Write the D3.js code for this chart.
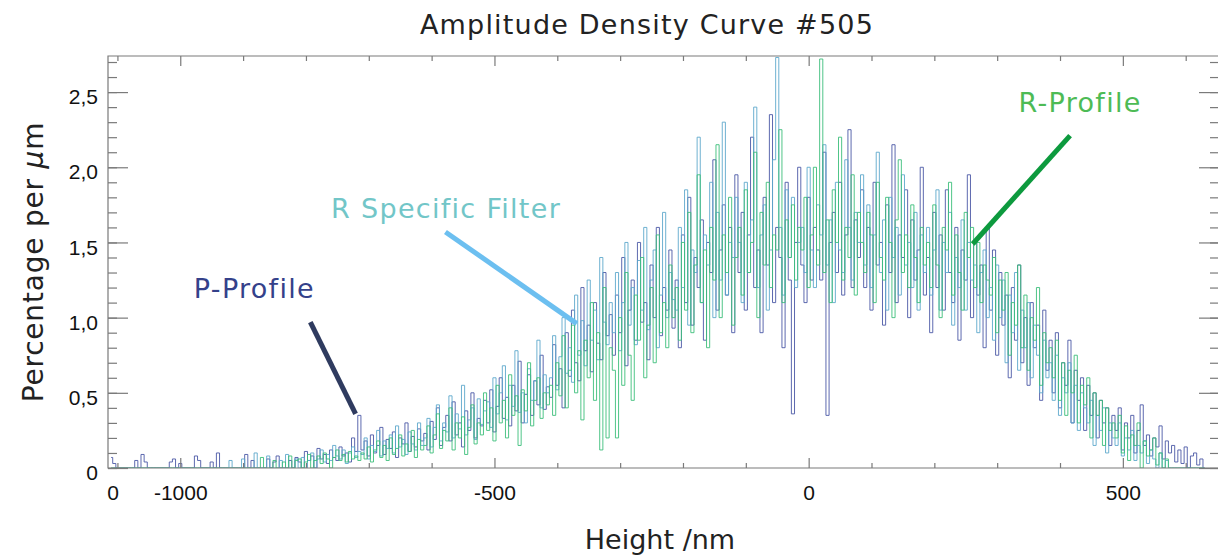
<!DOCTYPE html>
<html>
<head>
<meta charset="utf-8">
<script src="https://cdn.jsdelivr.net/npm/d3@7"></script>
<style>
  body { margin: 0; background: #fff; }
  svg { display: block; }
</style>
</head>
<body>
<div id="chart"></div>
<script>
/* Amplitude density curve, three profiles, 5 nm bins */

const titleText = 'Amplitude Density Curve #505';
const xTitle = 'Height /nm';

// bins: first bin centre and width (nm)
const binStart = -1110;
const binWidth = 5;

// percentage per µm, one value per bin (100 nm per row)
const pProfile = [
    0.07,0.03,0,0,0,0,0,0,0.05,0,0.09,0.04,0,0,0,0,0,0,0,0.04,
    0.06,0,0.03,0,0,0,0,0.08,0.05,0,0,0,0.04,0,0.1,0,0,0,0,0,
    0,0,0,0.09,0,0.05,0,0,0,0,0.06,0,0.04,0.08,0,0,0,0.05,0,0.07,
    0.04,0,0.11,0.05,0.08,0,0.13,0.06,0.09,0.03,0.12,0.07,0.05,0.14,0.08,0.1,0.04,0.2,0.11,0.35,
    0.12,0.18,0.08,0.22,0.1,0.15,0.27,0.09,0.19,0.13,0.24,0.07,0.2,0.16,0.3,0.11,0.21,0.14,0.26,0.18,
    0.23,0.12,0.31,0.19,0.4,0.15,0.27,0.35,0.18,0.44,0.22,0.3,0.14,0.38,0.25,0.5,0.2,0.33,0.28,0.45,
    0.3,0.52,0.24,0.41,0.6,0.33,0.47,0.28,0.55,0.38,0.71,0.3,0.49,0.62,0.35,0.58,0.42,0.75,0.39,0.54,
    0.47,0.82,0.55,0.66,0.4,0.9,0.61,1.05,0.7,0.58,1.2,0.78,0.95,0.64,1.1,0.83,0.72,1.3,0.88,1.02,
    0.75,1.15,0.9,1.4,0.68,1.05,1.25,0.85,1.5,0.97,1.1,0.72,1.35,1.0,1.6,0.88,1.2,1.05,1.45,0.93,
    1.25,0.8,1.55,1.1,1.8,0.95,1.4,1.2,1.65,0.85,1.5,1.3,2.05,1.05,1.45,1.75,1.15,1.6,0.9,1.95,
    1.3,1.7,1.05,1.55,2.2,1.2,1.45,0.9,1.8,1.35,2.35,1.1,1.6,1.4,0.8,1.9,1.25,0.36,1.5,2.0,
    1.35,1.1,1.8,1.25,1.6,1.45,1.25,2.1,0.35,1.5,1.7,1.3,1.9,1.15,1.55,2.25,1.2,1.65,1.4,1.85,
    1.2,1.6,1.05,1.9,1.35,1.5,0.95,1.75,1.3,2.15,1.1,1.55,1.4,1.85,1.0,1.65,1.25,1.45,2.0,1.15,
    1.4,0.9,1.7,1.2,1.55,1.05,1.85,1.3,1.1,1.6,0.85,1.45,1.25,1.95,1.0,1.5,1.15,1.35,0.8,1.6,
    1.05,1.45,0.75,1.3,0.95,1.15,0.6,1.2,0.85,1.35,0.7,1.0,0.55,1.1,0.8,0.95,0.45,1.05,0.65,0.85,
    0.5,0.9,0.4,0.7,0.55,0.85,0.3,0.65,0.45,0.6,0.25,0.55,0.35,0.5,0.2,0.45,0.3,0.4,0.15,0.35,
    0.25,0.4,0.12,0.3,0.2,0.35,0.1,0.25,0.42,0.15,0.22,0.08,0.2,0.14,0.28,0.06,0.18,0.1,0.15,0.04,
    0.12,0.03,0.14,0,0.08,0.1,0.02,0.06,0
];

const rFilter = [
    0,0,0,0,0,0,0,0,0,0,0,0,0,0,0,0,0,0,0,0,
    0,0,0,0,0,0,0,0,0,0,0,0,0,0,0,0,0,0,0.05,0,
    0,0,0.06,0,0,0,0.1,0,0,0,0.08,0,0,0,0.05,0,0.09,0,0,0.06,
    0,0.07,0,0.05,0.1,0,0.06,0.12,0.04,0.09,0.05,0.15,0.08,0.06,0.12,0.03,0.1,0.14,0.07,0.11,
    0.09,0.2,0.06,0.15,0.11,0.25,0.08,0.18,0.13,0.22,0.1,0.28,0.14,0.19,0.09,0.24,0.16,0.12,0.3,0.15,
    0.2,0.33,0.14,0.27,0.42,0.18,0.3,0.24,0.48,0.2,0.36,0.26,0.55,0.22,0.32,0.4,0.19,0.46,0.29,0.38,
    0.44,0.27,0.6,0.36,0.5,0.68,0.32,0.55,0.41,0.78,0.37,0.5,0.3,0.66,0.45,0.58,0.85,0.4,0.62,0.5,
    0.6,0.88,0.52,0.74,1.0,0.63,0.8,0.57,1.15,0.75,0.98,0.68,1.25,0.85,1.05,0.72,1.4,0.97,0.82,1.1,
    0.9,1.3,0.78,1.1,1.5,0.95,1.2,0.82,1.38,1.05,1.6,0.92,1.25,1.45,0.8,1.15,1.7,1.0,1.3,1.12,
    1.05,1.6,1.2,1.85,0.95,1.45,1.3,2.2,1.1,1.55,1.35,1.9,1.0,1.7,1.25,2.3,1.15,1.5,1.4,1.8,
    1.5,1.1,1.9,1.3,1.65,2.4,1.2,1.55,1.75,1.05,1.45,2.05,2.73,1.6,1.15,1.85,1.4,1.8,1.2,1.5,
    1.6,1.3,2.0,1.45,1.2,1.75,1.55,2.15,1.35,1.65,1.1,1.9,1.45,1.3,2.05,1.6,1.25,1.7,1.5,1.95,
    1.35,1.75,1.2,1.55,2.1,1.3,1.65,1.05,1.8,1.4,1.6,1.15,1.95,1.35,1.5,1.2,1.7,1.05,1.55,1.3,
    1.6,1.15,1.45,1.85,1.05,1.5,1.3,1.7,0.95,1.4,1.2,1.65,1.05,1.5,1.25,1.35,0.9,1.3,1.45,1.0,
    1.2,0.85,1.35,1.0,1.25,0.7,1.15,0.9,1.3,0.65,1.05,0.8,1.1,0.6,0.95,0.75,0.5,0.85,0.6,0.7,
    0.45,0.75,0.35,0.6,0.5,0.7,0.3,0.55,0.25,0.5,0.4,0.3,0.45,0.15,0.35,0.25,0.4,0.1,0.3,0.2,
    0.15,0.3,0.08,0.2,0.12,0.25,0.05,0.15,0.1,0.18,0.03,0.12,0.06,0,0.1,0,0.05,0,0,0,
    0,0,0,0,0,0,0,0,0
];

const rProfile = [
    0,0,0,0,0,0,0,0,0,0,0,0,0,0,0,0,0,0,0,0,
    0,0,0,0,0,0,0,0,0,0,0,0,0,0,0,0,0,0,0,0,
    0,0,0,0,0,0,0,0,0.07,0,0,0,0.05,0,0,0.04,0,0.08,0,0.05,
    0.06,0,0.04,0.09,0,0.05,0.08,0.03,0.1,0.06,0,0.07,0.12,0.05,0.09,0.04,0.11,0.06,0.08,0.05,
    0.1,0.06,0.14,0.04,0.12,0.18,0.07,0.15,0.05,0.2,0.09,0.13,0.22,0.08,0.16,0.11,0.25,0.07,0.19,0.12,
    0.15,0.28,0.1,0.22,0.36,0.13,0.25,0.18,0.4,0.12,0.3,0.2,0.34,0.09,0.27,0.42,0.16,0.3,0.22,0.5,
    0.25,0.4,0.18,0.55,0.3,0.45,0.2,0.62,0.35,0.48,0.15,0.52,0.38,0.7,0.28,0.45,0.6,0.33,0.5,0.42,
    0.55,0.35,0.7,0.48,0.88,0.4,0.65,0.95,0.5,0.78,0.32,0.85,0.6,1.1,0.45,0.9,0.12,1.2,0.2,0.8,
    0.65,0.2,1.0,0.55,1.3,0.75,0.45,1.15,0.85,1.4,0.6,0.95,1.2,0.7,1.55,0.9,1.1,0.8,1.35,1.0,
    1.2,0.85,1.5,1.05,1.7,0.9,1.35,1.95,1.1,1.45,0.8,1.6,1.25,2.15,1.0,1.55,1.3,1.8,0.95,1.4,
    1.6,1.15,1.85,1.3,1.5,2.1,1.0,1.7,1.35,1.9,1.2,1.55,1.45,2.25,1.1,1.65,1.4,1.75,1.25,1.6,
    1.45,1.8,1.2,1.55,2.0,1.35,2.72,1.3,1.65,1.1,1.85,1.5,2.2,1.25,1.6,1.4,1.95,1.15,1.7,1.5,
    1.3,1.7,1.55,1.1,1.9,1.4,1.25,1.8,1.5,1.0,1.65,2.05,1.3,1.55,1.2,1.75,1.4,1.1,1.6,1.35,
    1.5,1.2,1.75,1.35,1.0,1.6,1.45,1.9,1.15,1.55,1.3,1.05,1.7,1.4,1.6,1.2,1.5,1.1,1.35,1.25,
    1.15,1.4,0.9,1.25,1.05,1.3,0.75,1.1,0.95,1.35,0.8,1.15,0.65,1.0,0.85,1.2,0.55,0.9,0.7,0.8,
    0.6,0.85,0.45,0.7,0.35,0.65,0.5,0.75,0.3,0.55,0.42,0.6,0.2,0.5,0.35,0.45,0.15,0.4,0.25,0.3,
    0.2,0.35,0.1,0.28,0.05,0.22,0.15,0.3,0,0.18,0.08,0.12,0.2,0.02,0.1,0,0.06,0,0,0,
    0,0,0,0,0,0,0,0,0
];

const xMajorTicks = [-1000, -500, 0, 500];
const xMinorTicks = [-1100, -900, -800, -700, -600, -400, -300, -200, -100, 100, 200, 300, 400, 600];
const yMajorTicks = [0, 0.5, 1, 1.5, 2, 2.5];
const yTickLabels = ['0', '0,5', '1,0', '1,5', '2,0', '2,5'];

// annotation labels and pointer lines, in data units
const notes = [
    { name: 'P-Profile',         color: '#34418a', lineColor: '#2f3b5f', tx: -882, ty: 1.13, x1: -793, y1: 0.97, x2: -721, y2: 0.36 },
    { name: 'R Specific Filter', color: '#72c6c8', lineColor: '#6cbff0', tx: -577, ty: 1.66, x1: -578, y1: 1.57, x2: -369, y2: 0.96 },
    { name: 'R-Profile',         color: '#4dbb55', lineColor: '#0d9a3e', tx: 432,  ty: 2.37, x1: 416,  y1: 2.21, x2: 261,  y2: 1.49 }
];

const seriesList = [
    { name: 'P-Profile', values: pProfile, color: '#4b59a6' },
    { name: 'R Specific Filter', values: rFilter, color: '#5ea8cc' },
    { name: 'R-Profile', values: rProfile, color: '#3dbf7b' }
];

const width = 1218, height = 556;
const plot = { left: 108, right: 1219, top: 56, bottom: 468 };

const svg = d3.select('#chart').append('svg')
    .attr('width', width)
    .attr('height', height)
    .style('background', '#fff');

const x = d3.scaleLinear().domain([-1115, 653]).range([plot.left, plot.right]);
const y = d3.scaleLinear().domain([0, 2.74]).range([plot.bottom, plot.top]);

const heights = d3.range(pProfile.length).map(i => binStart + i * binWidth);

svg.append('defs').append('clipPath').attr('id', 'plot-clip')
    .append('rect')
    .attr('x', plot.left).attr('y', plot.top)
    .attr('width', plot.right - plot.left).attr('height', plot.bottom - plot.top);

// curves
const line = d3.line()
    .x((d, i) => x(heights[i]))
    .y(d => y(d))
    .curve(d3.curveStep);

const curveGroup = svg.append('g').attr('clip-path', 'url(#plot-clip)');
seriesList.forEach(s => {
    curveGroup.append('path')
        .datum(s.values)
        .attr('fill', 'none')
        .attr('stroke', s.color)
        .attr('stroke-width', 1)
        .attr('stroke-opacity', 0.9)
        .attr('d', line);
});

// frame
const axisColor = '#7a7a7a';
svg.append('path')
    .attr('d', `M${plot.right},${plot.top}H${plot.left}V${plot.bottom}H${plot.right}`)
    .attr('fill', 'none')
    .attr('stroke', axisColor)
    .attr('stroke-width', 1.2);

function styleAxis(g) {
    g.select('.domain').remove();
    g.selectAll('.tick line').attr('stroke', axisColor).attr('stroke-width', 1.2);
}

const tickFont = '"Liberation Sans", Arial, sans-serif';

// y axes (left with labels, right mirrored)
svg.append('g')
    .attr('transform', `translate(${plot.left},0)`)
    .call(d3.axisLeft(y).tickValues(d3.range(0, 2.75, 0.1)).tickSize(-9).tickFormat(''))
    .call(styleAxis);
svg.append('g')
    .attr('transform', `translate(${plot.left},0)`)
    .call(d3.axisLeft(y).tickValues(yMajorTicks).tickSize(-20).tickPadding(10)
        .tickFormat((d, i) => yTickLabels[i]))
    .call(styleAxis)
    .call(g => g.selectAll('text')
        .attr('fill', '#111')
        .attr('dy', '0.55em')
        .style('font-family', tickFont)
        .style('font-size', '21px'));
svg.append('g')
    .attr('transform', `translate(${plot.right},0)`)
    .call(d3.axisRight(y).tickValues(d3.range(0, 2.75, 0.1)).tickSize(-9).tickFormat(''))
    .call(styleAxis);
svg.append('g')
    .attr('transform', `translate(${plot.right},0)`)
    .call(d3.axisRight(y).tickValues(yMajorTicks).tickSize(-20).tickFormat(''))
    .call(styleAxis);

// x axes (bottom with labels, top mirrored)
svg.append('g')
    .attr('transform', `translate(0,${plot.bottom})`)
    .call(d3.axisBottom(x).tickValues(xMinorTicks).tickSize(-5).tickFormat(''))
    .call(styleAxis);
svg.append('g')
    .attr('transform', `translate(0,${plot.bottom})`)
    .call(d3.axisBottom(x).tickValues(xMajorTicks).tickSize(-10).tickPadding(17).tickFormat(d => String(d)))
    .call(styleAxis)
    .call(g => g.selectAll('text')
        .attr('fill', '#111')
        .style('font-family', tickFont)
        .style('font-size', '21px'));
svg.append('g')
    .attr('transform', `translate(0,${plot.top})`)
    .call(d3.axisTop(x).tickValues(xMinorTicks).tickSize(-5).tickFormat(''))
    .call(styleAxis);
svg.append('g')
    .attr('transform', `translate(0,${plot.top})`)
    .call(d3.axisTop(x).tickValues(xMajorTicks).tickSize(-10).tickFormat(''))
    .call(styleAxis);

// stray "0" at the left end of the x axis
svg.append('text')
    .attr('x', x(-1115) + 5)
    .attr('y', plot.bottom + 17)
    .attr('dy', '0.71em')
    .attr('text-anchor', 'middle')
    .attr('fill', '#111')
    .style('font-family', tickFont)
    .style('font-size', '21px')
    .text('0');

const labelFont = '"DejaVu Sans", "Open Sans", sans-serif';

// title
svg.append('text')
    .attr('x', 647)
    .attr('y', 34)
    .attr('text-anchor', 'middle')
    .attr('fill', '#222')
    .style('font-family', labelFont)
    .style('font-size', '27px')
    .style('letter-spacing', '1.2px')
    .text(titleText);

// axis titles
svg.append('text')
    .attr('x', 660)
    .attr('y', 549)
    .attr('text-anchor', 'middle')
    .attr('fill', '#222')
    .style('font-family', labelFont)
    .style('font-size', '27px')
    .text(xTitle);

const yTitle = svg.append('text')
    .attr('transform', 'translate(43,262) rotate(-90)')
    .attr('text-anchor', 'middle')
    .attr('fill', '#222')
    .style('font-family', labelFont)
    .style('font-size', '28px')
    .style('letter-spacing', '0.8px');
yTitle.append('tspan').text('Percentage per ');
yTitle.append('tspan').style('font-style', 'italic').text('μ');
yTitle.append('tspan').text('m');

// annotations
const noteGroup = svg.append('g');
notes.forEach(n => {
    noteGroup.append('line')
        .attr('x1', x(n.x1)).attr('y1', y(n.y1))
        .attr('x2', x(n.x2)).attr('y2', y(n.y2))
        .attr('stroke', n.lineColor)
        .attr('stroke-width', 5);
    noteGroup.append('text')
        .attr('x', x(n.tx))
        .attr('y', y(n.ty))
        .attr('text-anchor', 'middle')
        .attr('fill', n.color)
        .style('font-family', labelFont)
        .style('font-size', '27px')
        .style('letter-spacing', '1.3px')
        .text(n.name);
});
</script>
</body>
</html>
